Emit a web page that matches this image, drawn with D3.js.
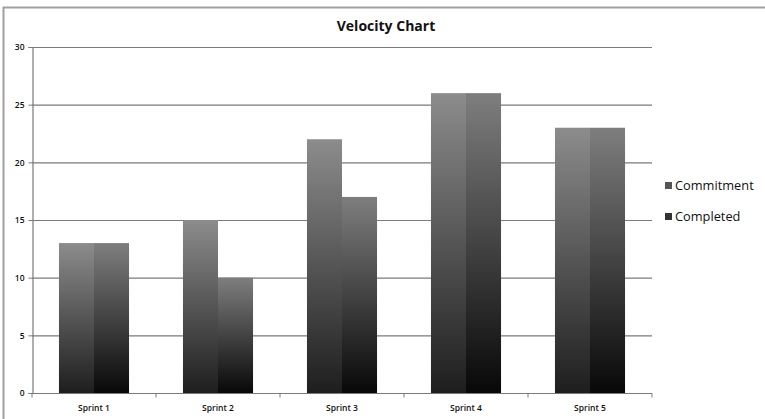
<!DOCTYPE html>
<html><head><meta charset="utf-8">
<script src="https://cdn.jsdelivr.net/npm/d3@7"></script>
<style>body{margin:0;background:#fff}svg{display:block}</style>
</head><body>
<svg id="c" width="765" height="419"></svg>
<script>
const categories = ["Sprint 1","Sprint 2","Sprint 3","Sprint 4","Sprint 5"];
const seriesNames = ["Commitment","Completed"];
const commitment = [13,15,22,26,23];
const completed = [13,10,17,26,23];
const yTicks = [0,5,10,15,20,25,30];

const svg = d3.select("#c");
const W=765,H=419;
const m={left:32,right:113,top:47,bottom:26};
const x = d3.scaleBand().domain(categories).range([m.left, 652]).paddingInner(0.435).paddingOuter(0.2175);
const x1 = d3.scaleBand().domain(seriesNames).range([0, x.bandwidth()]);
const y = d3.scaleLinear().domain([0,30]).range([393,47]);

// frame
svg.append("path").attr("d",`M3.5,${H} V7.5 H${W}`).attr("fill","none").attr("stroke","#a0a0a0").attr("stroke-width",2);

const defs = svg.append("defs");
const g1 = defs.append("linearGradient").attr("id","gA").attr("x1",0).attr("y1",0).attr("x2",0).attr("y2",1);
g1.append("stop").attr("offset","0%").attr("stop-color","#8c8c8c");
g1.append("stop").attr("offset","100%").attr("stop-color","#1e1e1e");
const g2 = defs.append("linearGradient").attr("id","gB").attr("x1",0).attr("y1",0).attr("x2",0).attr("y2",1);
g2.append("stop").attr("offset","0%").attr("stop-color","#7e7e7e");
g2.append("stop").attr("offset","100%").attr("stop-color","#080808");

// grid
svg.append("g").selectAll("line").data(yTicks.filter(d=>d>0)).join("line")
  .attr("x1",m.left).attr("x2",652).attr("y1",d=>y(d)+0.5).attr("y2",d=>y(d)+0.5)
  .attr("stroke","#7a7a7a").attr("stroke-width",1.2);

// y axis
const ya = svg.append("g").attr("transform",`translate(${m.left+0.5},0)`)
  .call(d3.axisLeft(y).tickValues(yTicks).tickSize(4).tickFormat(d3.format("d")));
ya.select(".domain").attr("stroke","#7a7a7a").attr("stroke-width",1.2);
ya.selectAll(".tick line").attr("stroke","#7a7a7a");
ya.selectAll("text").attr("font-family","'Open Sans', Lato, sans-serif").attr("font-size",8.5).attr("font-weight",600).attr("fill","#111").attr("x",-8);

// bars
const data = categories.map((c,i)=>({c, vals:[{s:"Commitment",v:commitment[i]},{s:"Completed",v:completed[i]}]}));
const grp = svg.append("g").selectAll("g").data(data).join("g").attr("transform",d=>`translate(${x(d.c)},0)`);
grp.selectAll("rect").data(d=>d.vals).join("rect")
  .attr("x",d=>x1(d.s)).attr("width",x1.bandwidth())
  .attr("y",d=>y(d.v)).attr("height",d=>y(0)-y(d.v))
  .attr("fill",d=>d.s==="Commitment"?"url(#gA)":"url(#gB)");

// x axis
const xa = svg.append("g").attr("transform",`translate(0,${y(0)+0.5})`);
xa.append("line").attr("x1",m.left).attr("x2",652).attr("stroke","#7a7a7a").attr("stroke-width",1.2);
const bounds = categories.map(c=>x(c)-x.step()*x.paddingInner()/2 ).concat([652]);
xa.selectAll("line.t").data(bounds).join("line").attr("class","t")
  .attr("x1",d=>d).attr("x2",d=>d).attr("y1",0).attr("y2",4).attr("stroke","#7a7a7a");
xa.selectAll("text").data(categories).join("text")
  .attr("x",d=>x(d)+x.bandwidth()/2).attr("y",17).attr("text-anchor","middle")
  .attr("font-family","'Open Sans', Lato, sans-serif").attr("font-size",8.5).attr("font-weight",600).attr("fill","#111").text(d=>d);

// title
svg.append("text").attr("x",386).attr("y",31).attr("text-anchor","middle")
  .attr("font-family","'Open Sans', Lato, sans-serif").attr("font-weight","bold").attr("font-size",14).attr("fill","#111").text("Velocity Chart");

// legend
const lg = svg.append("g").selectAll("g").data(seriesNames).join("g")
  .attr("transform",(d,i)=>`translate(665,${188+i*31})`);
lg.append("rect").attr("x",0).attr("y",-6).attr("width",7).attr("height",7)
  .attr("fill",(d,i)=>i===0?"#555":"#333");
lg.append("text").attr("x",10).attr("y",1.5).attr("font-family","'Open Sans', Lato, sans-serif").attr("font-size",12.8).attr("fill","#111").text(d=>d);
</script>
</body></html>
